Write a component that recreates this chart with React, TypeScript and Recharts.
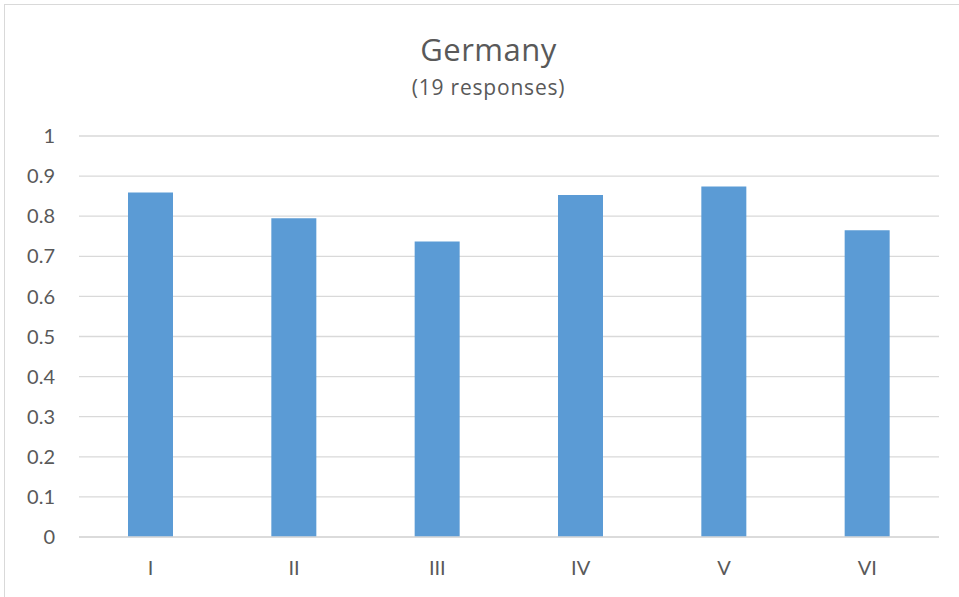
import React from "react";
import { BarChart, Bar, XAxis, YAxis, CartesianGrid } from "recharts";

const categories = ["I", "II", "III", "IV", "V", "VI"];
const values = [0.859, 0.795, 0.737, 0.853, 0.874, 0.765];
const yTicks = [0, 0.1, 0.2, 0.3, 0.4, 0.5, 0.6, 0.7, 0.8, 0.9, 1];
const title = "Germany";
const subtitle = "(19 responses)";

const data = categories.map((c, i) => ({ name: c, value: values[i] }));

const FONT = "Lato, 'Open Sans', sans-serif";
const TITLE_FONT = "'Open Sans', Lato, sans-serif";
const TEXT = "#595959";

export default function App() {
  return (
    <div
      style={{
        position: "absolute",
        left: 0,
        top: 0,
        width: 959,
        height: 597,
        overflow: "hidden",
        background: "#fff",
        fontFamily: FONT,
      }}
    >
      <div
        style={{
          position: "absolute",
          left: 4,
          top: 4,
          width: 1000,
          height: 700,
          border: "1px solid #d9d9d9",
        }}
      />
      <div
        style={{
          position: "absolute",
          left: 0,
          width: 977,
          top: 34,
          textAlign: "center",
          fontFamily: TITLE_FONT,
          fontSize: 31,
          letterSpacing: 0.5,
          color: TEXT,
          lineHeight: "31px",
          whiteSpace: "nowrap",
        }}
      >
        {title}
      </div>
      <div
        style={{
          position: "absolute",
          left: 0,
          width: 977,
          top: 77,
          textAlign: "center",
          fontFamily: TITLE_FONT,
          fontSize: 21,
          letterSpacing: 0.8,
          color: TEXT,
          lineHeight: "21px",
          whiteSpace: "nowrap",
        }}
      >
        {subtitle}
      </div>
      <div style={{ position: "absolute", left: 0, top: 0 }}>
        <BarChart
          width={959}
          height={597}
          data={data}
          margin={{ top: 136, right: 20, bottom: 30, left: 0 }}
        >
          <CartesianGrid vertical={false} stroke="#d9d9d9" strokeWidth={1.3} />
          <XAxis
            dataKey="name"
            axisLine={{ stroke: "#d9d9d9", strokeWidth: 1.3 }}
            tickLine={false}
            tickSize={0}
            tickMargin={24}
            height={30}
            tick={{ fill: TEXT, fontSize: 20, fontFamily: FONT }}
          />
          <YAxis
            width={79}
            domain={[0, 1]}
            ticks={yTicks}
            axisLine={false}
            tickLine={false}
            tickSize={0}
            tickMargin={24}
            interval={0}
            tick={{ fill: TEXT, fontSize: 20, fontFamily: FONT }}
          />
          <Bar dataKey="value" fill="#5b9bd5" barSize={45} isAnimationActive={false} />
        </BarChart>
      </div>
    </div>
  );
}
